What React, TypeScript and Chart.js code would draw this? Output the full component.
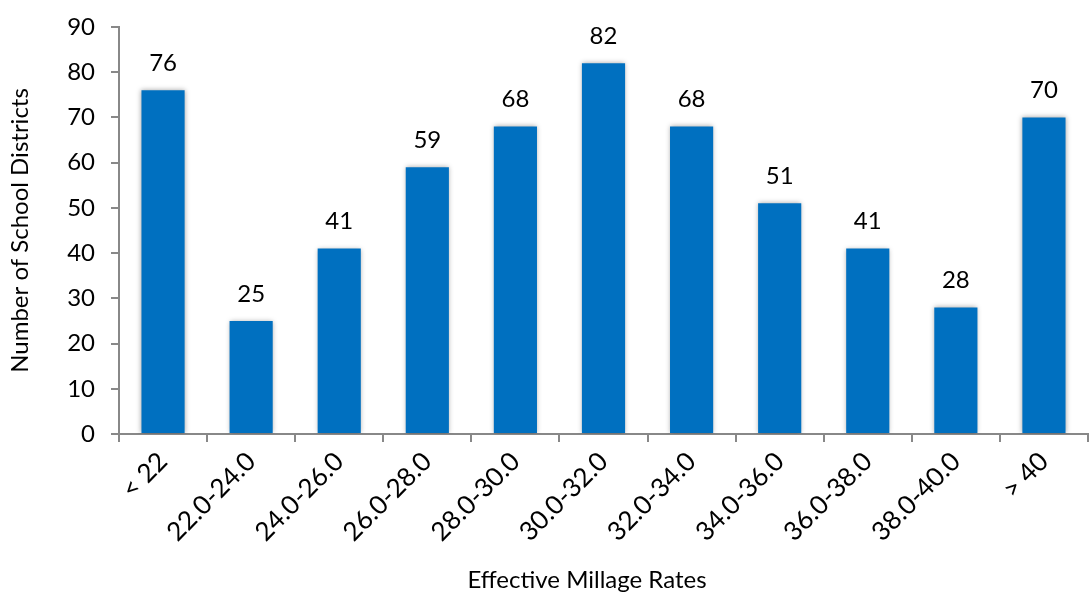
import React, { useEffect, useRef } from "react";
import { Chart, registerables } from "chart.js";

Chart.register(...registerables);

const categories = ["< 22", "22.0-24.0", "24.0-26.0", "26.0-28.0", "28.0-30.0", "30.0-32.0", "32.0-34.0", "34.0-36.0", "36.0-38.0", "38.0-40.0", "> 40"];
const districtCounts = [76, 25, 41, 59, 68, 82, 68, 51, 41, 28, 70];
const yTicks = { min: 0, max: 90, step: 10 };
const xAxisTitle = "Effective Millage Rates";
const yAxisTitle = "Number of School Districts";

const FONT = "Lato, 'Open Sans', sans-serif";
const AXIS_COLOR = "#888888";

const shadowPlugin = {
  id: "barShadow",
  beforeDatasetsDraw(chart: any) {
    const ctx = chart.ctx;
    ctx.save();
    ctx.shadowColor = "rgba(0,0,0,0.35)";
    ctx.shadowBlur = 5;
    ctx.shadowOffsetX = 0;
    ctx.shadowOffsetY = 0;
  },
  afterDatasetsDraw(chart: any) {
    chart.ctx.restore();
  },
};

const dataLabelPlugin = {
  id: "dataLabels",
  afterDraw(chart: any) {
    const ctx = chart.ctx;
    const meta = chart.getDatasetMeta(0);
    ctx.save();
    ctx.font = `24px ${FONT}`;
    ctx.fillStyle = "#000000";
    ctx.textAlign = "center";
    ctx.textBaseline = "bottom";
    meta.data.forEach((bar: any, i: number) => {
      ctx.fillText(String(districtCounts[i]), bar.x, bar.y - 15);
    });
    // x-axis title, centred on the whole chart like the source
    ctx.font = `24px ${FONT}`;
    ctx.textBaseline = "middle";
    ctx.fillText(xAxisTitle, chart.width / 2 + 41, chart.height - 13);
    ctx.restore();
  },
};

export default function App() {
  const canvasRef = useRef<HTMLCanvasElement | null>(null);

  useEffect(() => {
    if (!canvasRef.current) return;
    const chart = new Chart(canvasRef.current, {
      type: "bar",
      data: {
        labels: categories,
        datasets: [
          {
            data: districtCounts,
            backgroundColor: "#0070C0",
            borderWidth: 0,
            categoryPercentage: 1,
            barPercentage: 0.49,
          },
        ],
      },
      plugins: [shadowPlugin, dataLabelPlugin],
      options: {
        responsive: false,
        animation: false,
        layout: { padding: { top: 27, right: 4, left: 0, bottom: 0 } },
        plugins: {
          legend: { display: false },
          tooltip: { enabled: false },
          title: { display: false },
        },
        scales: {
          x: {
            afterFit(scale: any) {
              scale.height = 159;
            },
            grid: {
              display: true,
              drawOnChartArea: false,
              drawTicks: true,
              tickLength: 8,
              color: AXIS_COLOR,
              lineWidth: 2,
              offset: true,
            },
            border: { display: true, color: AXIS_COLOR, width: 2 },
            ticks: {
              color: "#000000",
              font: { family: FONT, size: 26 },
              maxRotation: 45,
              minRotation: 45,
              padding: 4,
            },
            title: { display: false, text: xAxisTitle },
          },
          y: {
            min: yTicks.min,
            max: yTicks.max,
            afterFit(scale: any) {
              scale.width = 119;
            },
            ticks: {
              stepSize: yTicks.step,
              color: "#000000",
              font: { family: FONT, size: 24, lineHeight: 0.8 },
              padding: 16,
            },
            grid: {
              display: true,
              drawOnChartArea: false,
              drawTicks: true,
              tickLength: 8,
              color: AXIS_COLOR,
              lineWidth: 2,
            },
            border: { display: true, color: AXIS_COLOR, width: 2 },
            title: {
              display: true,
              text: yAxisTitle,
              color: "#000000",
              font: { family: FONT, size: 24 },
              padding: { top: 6, bottom: 0 },
            },
          },
        },
      },
    });
    return () => chart.destroy();
  }, []);

  return (
    <div style={{ position: "fixed", left: 0, top: 0, width: 1092, height: 593, background: "#ffffff" }}>
      <canvas ref={canvasRef} width={1092} height={593} style={{ display: "block" }} />
    </div>
  );
}
